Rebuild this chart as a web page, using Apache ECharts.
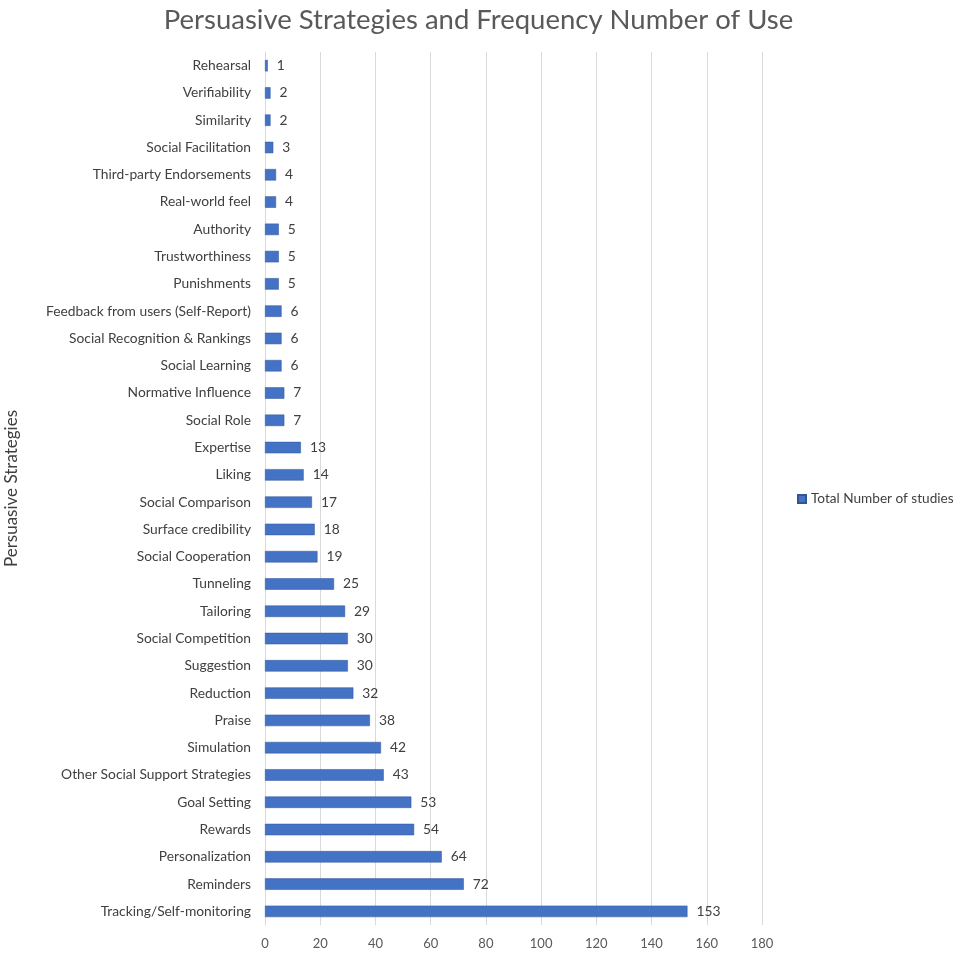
<!DOCTYPE html>
<html><head><meta charset="utf-8">
<script src="https://cdn.jsdelivr.net/npm/echarts@6/dist/echarts.min.js"></script>
<style>html,body{margin:0;padding:0;background:#fff}#c{width:957px;height:953px}</style>
</head><body><div id="c"></div>
<script>
const categories = ["Rehearsal","Verifiability","Similarity","Social Facilitation","Third-party Endorsements","Real-world feel","Authority","Trustworthiness","Punishments","Feedback from users (Self-Report)","Social Recognition & Rankings","Social Learning","Normative Influence","Social Role","Expertise","Liking","Social Comparison","Surface credibility","Social Cooperation","Tunneling","Tailoring","Social Competition","Suggestion","Reduction","Praise","Simulation","Other Social Support Strategies","Goal Setting","Rewards","Personalization","Reminders","Tracking/Self-monitoring"];
const values = [1,2,2,3,4,4,5,5,5,6,6,6,7,7,13,14,17,18,19,25,29,30,30,32,38,42,43,53,54,64,72,153];
const seriesName = "Total Number of studies";
const FONT = "Lato, 'Open Sans', sans-serif";
const chart = echarts.init(document.getElementById('c'));
chart.setOption({
  animation:false,
  title:{text:"Persuasive Strategies and Frequency Number of Use",left:'center',top:1,
    textStyle:{fontFamily:FONT,fontSize:27.5,fontWeight:'normal',color:'#595959'}},
  legend:{data:[seriesName],orient:'vertical',left:797,top:492,padding:0,itemWidth:8,itemHeight:8,itemGap:5,
    textStyle:{fontFamily:FONT,fontSize:13.6,color:'#404040'},icon:'rect'},
  grid:{left:265,right:195,top:52,bottom:28,containLabel:false,outerBoundsMode:'none'},
  xAxis:{type:'value',min:0,max:180,interval:20,
    axisLine:{show:false},axisTick:{show:false},
    splitLine:{lineStyle:{color:'#d9d9d9',width:1}},
    axisLabel:{fontFamily:FONT,fontSize:13,color:'#595959',margin:12}},
  yAxis:{type:'category',data:categories,inverse:true,
    name:"Persuasive Strategies",nameLocation:'middle',nameGap:245,nameRotate:90,
    nameTextStyle:{fontFamily:FONT,fontSize:17,color:'#404040'},
    axisLine:{show:true,lineStyle:{color:'#d9d9d9'}},axisTick:{show:false},
    axisLabel:{fontFamily:FONT,fontSize:13.8,color:'#404040',margin:14}},
  series:[{name:seriesName,type:'bar',data:values,barWidth:'42%',
    itemStyle:{color:'#4472C4',borderColor:'#2F5597',borderWidth:0.5},
    label:{show:true,position:'right',distance:9,fontFamily:FONT,fontSize:13.8,color:'#404040'}}]
});
</script></body></html>
